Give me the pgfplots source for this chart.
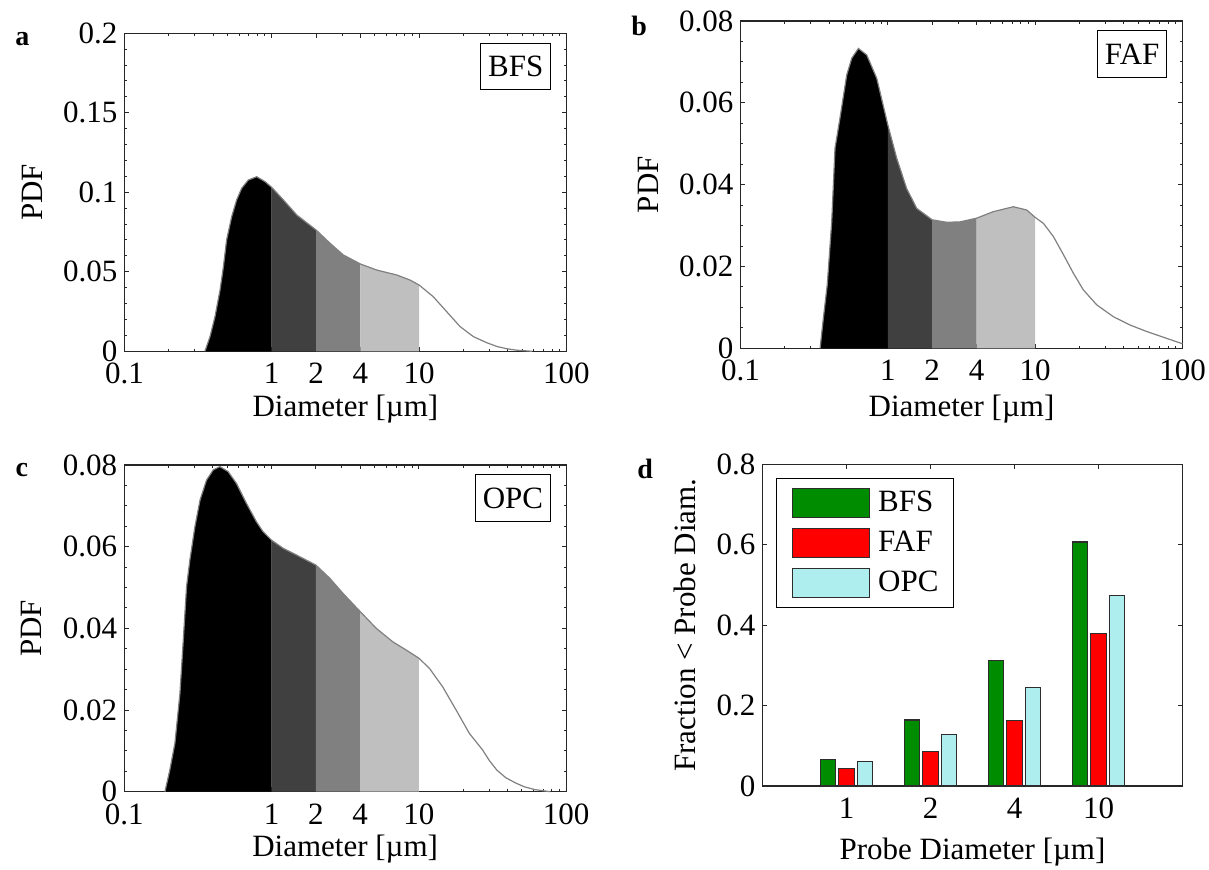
\documentclass[border=0pt]{standalone}
\usepackage{fontspec}
\setmainfont{Liberation Serif}
\usepackage{pgfplots}
\pgfplotsset{compat=1.18}
\usepackage{pgfplotstable}

\definecolor{bfsg}{RGB}{0,140,0}
\definecolor{fafr}{RGB}{255,0,0}
\definecolor{opcc}{RGB}{175,238,238}
\definecolor{ga}{RGB}{64,64,64}
\definecolor{gb}{RGB}{128,128,128}
\definecolor{gc}{RGB}{191,191,191}
\definecolor{curvegray}{RGB}{128,128,128}
\definecolor{edgegray}{RGB}{45,45,45}

% Panel a: BFS
\pgfplotstableread{
d p
0.352 0
0.381 0.0092
0.412 0.0218
0.446 0.0386
0.470 0.0532
0.494 0.0700
0.535 0.0847
0.578 0.0952
0.625 0.1025
0.693 0.1077
0.791 0.1098
0.901 0.1067
1.0 0.1031
1.2 0.0952
1.48 0.0857
2.0 0.0763
2.49 0.0679
3.06 0.0606
4.0 0.0549
5.16 0.0511
7.06 0.0480
8.69 0.0448
10.0 0.0417
12.5 0.0343
15.4 0.0249
19.0 0.0155
23.4 0.0092
28.8 0.0054
34.1 0.0029
40.0 0.0015
46 0.0007
58.5 0
}\bfs

% Panel b: FAF
\pgfplotstableread{
d p
0.347 0
0.365 0.0073
0.388 0.0155
0.416 0.0309
0.438 0.0489
0.473 0.0562
0.526 0.0668
0.569 0.0709
0.631 0.0733
0.719 0.0717
0.841 0.0660
1.0 0.0546
1.15 0.0464
1.34 0.0391
1.57 0.0342
2.0 0.0314
2.51 0.0308
3.09 0.0309
4.0 0.0318
5.2 0.0334
7.11 0.0346
8.77 0.0338
10.0 0.0320
11.4 0.0305
13.3 0.0273
15.6 0.0228
18.2 0.0183
21.2 0.0143
26.2 0.0106
34.0 0.0077
44.0 0.0057
57.2 0.0041
74.2 0.0027
100 0.0011
}\faf

% Panel c: OPC
\pgfplotstableread{
d p
0.189 0
0.204 0.0053
0.221 0.0119
0.239 0.0241
0.251 0.0363
0.265 0.0502
0.279 0.0567
0.302 0.0649
0.327 0.0714
0.362 0.0763
0.402 0.0788
0.446 0.0796
0.507 0.0784
0.578 0.0755
0.676 0.0706
0.79 0.0661
0.875 0.0637
1.0 0.0616
1.2 0.0596
1.47 0.0580
2.0 0.0555
2.48 0.0523
3.05 0.0486
4.0 0.0441
5.14 0.0400
6.66 0.0367
8.2 0.0347
10.0 0.0327
11.8 0.0302
14.5 0.0257
17.9 0.0200
22.0 0.0143
27.1 0.0102
30.0 0.0077
33.8 0.0053
39.0 0.0034
45.6 0.0021
52.0 0.0012
61.5 0.0005
78 0
}\opc

\tikzset{
  tagbox/.style={draw=black, line width=0.5pt, fill=white, anchor=north east,
    inner xsep=3.6pt, inner ysep=0pt, minimum height=23.3pt, xshift=-7.7pt, yshift=-4.7pt},
  panelletter/.style={anchor=base west, inner sep=0pt, font=\fontsize{14}{16}\selectfont\bfseries},
}

\pgfplotsset{
  commonax/.style={
    scale only axis, clip=false,
    font=\fontsize{15.5}{18}\selectfont,
    axis line style={line width=0.6pt, black!85},
    tick style={black!85, line width=0.5pt},
    major tick length=2.2pt, minor tick length=1.3pt,
    tick align=inside,
    scaled y ticks=false,
    /pgf/number format/assume math mode=true,
    yticklabel style={/pgf/number format/fixed, /pgf/number format/precision=2},
    xticklabel style={yshift=-2.5pt},
  },
  pdfax/.style={
    commonax, width=221pt,
    xmin=0.1, xmax=100, ymin=0,
    xtick={0.1,1,2,4,10,100}, xticklabels={0.1,1,2,4,10,100},
    minor xtick={0.2,0.3,0.4,0.5,0.6,0.7,0.8,0.9,3,5,6,7,8,9,20,30,40,50,60,70,80,90},
    xlabel={Diameter [µm]}, ylabel={PDF},
    ylabel style={at={(axis description cs:-0.209,0.5)}, anchor=center},
  },
  segm/.style 2 args={draw=none, restrict expr to domain={\coordindex}{#1:#2}},
  mybar/.style={ybar, bar width=7.65pt, draw=edgegray, line width=0.6pt,
    legend image code/.code={\draw[##1] (0pt,-7.25pt) rectangle (38.65pt,7.25pt);}},
}

\begin{document}
\begin{tikzpicture}
\useasboundingbox (0,0) rectangle (604.5pt,434.5pt);

% ---------- a ----------
\begin{axis}[xmode=log, pdfax, at={(62.2pt,258.85pt)}, anchor=south west, height=159pt,
  ymax=0.2, ytick={0,0.05,0.1,0.15,0.2}, minor y tick num=4,
  xlabel style={at={(axis description cs:0.5,-0.204)}, anchor=base}]
\addplot[segm={0}{12}, fill=black] table[x=d,y=p]{\bfs} \closedcycle;
\addplot[segm={12}{15}, fill=ga] table[x=d,y=p]{\bfs} \closedcycle;
\addplot[segm={15}{18}, fill=gb] table[x=d,y=p]{\bfs} \closedcycle;
\addplot[segm={18}{22}, fill=gc] table[x=d,y=p]{\bfs} \closedcycle;
\addplot[curvegray, line width=0.6pt] table[x=d,y=p]{\bfs};
\node[tagbox] at (axis description cs:1,1) {BFS};
\node[panelletter] at (axis description cs:-0.2475,0.963) {a};
\end{axis}

% ---------- b ----------
\begin{axis}[xmode=log, pdfax, at={(370.25pt,260.35pt)}, anchor=south west, height=163.65pt,
  ymax=0.08, ytick={0,0.02,0.04,0.06,0.08}, minor y tick num=3,
  xlabel style={at={(axis description cs:0.5,-0.207)}, anchor=base}]
\addplot[segm={0}{11}, fill=black] table[x=d,y=p]{\faf} \closedcycle;
\addplot[segm={11}{15}, fill=ga] table[x=d,y=p]{\faf} \closedcycle;
\addplot[segm={15}{18}, fill=gb] table[x=d,y=p]{\faf} \closedcycle;
\addplot[segm={18}{22}, fill=gc] table[x=d,y=p]{\faf} \closedcycle;
\addplot[curvegray, line width=0.6pt] table[x=d,y=p]{\faf};
\node[tagbox] at (axis description cs:1,1) {FAF};
\node[panelletter] at (axis description cs:-0.2477,0.957) {b};
\end{axis}

% ---------- c ----------
\begin{axis}[xmode=log, pdfax, at={(62.1pt,38.65pt)}, anchor=south west, height=163.35pt,
  ymax=0.08, ytick={0,0.02,0.04,0.06,0.08}, minor y tick num=3,
  xlabel style={at={(axis description cs:0.5,-0.199)}, anchor=base}]
\addplot[segm={0}{17}, fill=black] table[x=d,y=p]{\opc} \closedcycle;
\addplot[segm={17}{20}, fill=ga] table[x=d,y=p]{\opc} \closedcycle;
\addplot[segm={20}{23}, fill=gb] table[x=d,y=p]{\opc} \closedcycle;
\addplot[segm={23}{27}, fill=gc] table[x=d,y=p]{\opc} \closedcycle;
\addplot[curvegray, line width=0.6pt] table[x=d,y=p]{\opc};
\node[tagbox] at (axis description cs:1,1) {OPC};
\node[panelletter] at (axis description cs:-0.2464,0.964) {c};
\end{axis}

% ---------- d ----------
\begin{axis}[commonax, at={(381.25pt,41.5pt)}, anchor=south west, width=210pt, height=160.85pt,
  xmin=0, xmax=5, ymin=0, ymax=0.8,
  xtick={1,2,3,4}, xticklabels={1,2,4,10},
  ytick={0,0.2,0.4,0.6,0.8},
  yticklabel style={/pgf/number format/precision=1},
  xlabel={Probe Diameter [µm]}, ylabel={Fraction < Probe Diam.},
  xlabel style={at={(axis description cs:0.5,-0.227)}, anchor=base},
  ylabel style={at={(axis description cs:-0.1836,0.5)}, anchor=center},
  legend cell align=left,
  legend style={at={(axis description cs:0,1)}, anchor=north west,
    xshift=6.75pt, yshift=-7pt, draw=black, line width=0.5pt,
    inner xsep=7.5pt, inner ysep=4.5pt, row sep=4.9pt, column sep=4.1pt,
    nodes={inner sep=0pt}, font=\fontsize{15.5}{18}\selectfont}]
\addplot[mybar, bar shift=-9.35pt, fill=bfsg] coordinates {(1,0.066) (2,0.164) (3,0.312) (4,0.607)};
\addlegendentry{BFS}
\addplot[mybar, bar shift=0pt, fill=fafr] coordinates {(1,0.044) (2,0.085) (3,0.163) (4,0.379)};
\addlegendentry{FAF}
\addplot[mybar, bar shift=9.35pt, fill=opcc] coordinates {(1,0.060) (2,0.128) (3,0.245) (4,0.474)};
\addlegendentry{OPC}
\node[panelletter] at (axis description cs:-0.299,0.957) {d};
\end{axis}
\end{tikzpicture}
\end{document}
